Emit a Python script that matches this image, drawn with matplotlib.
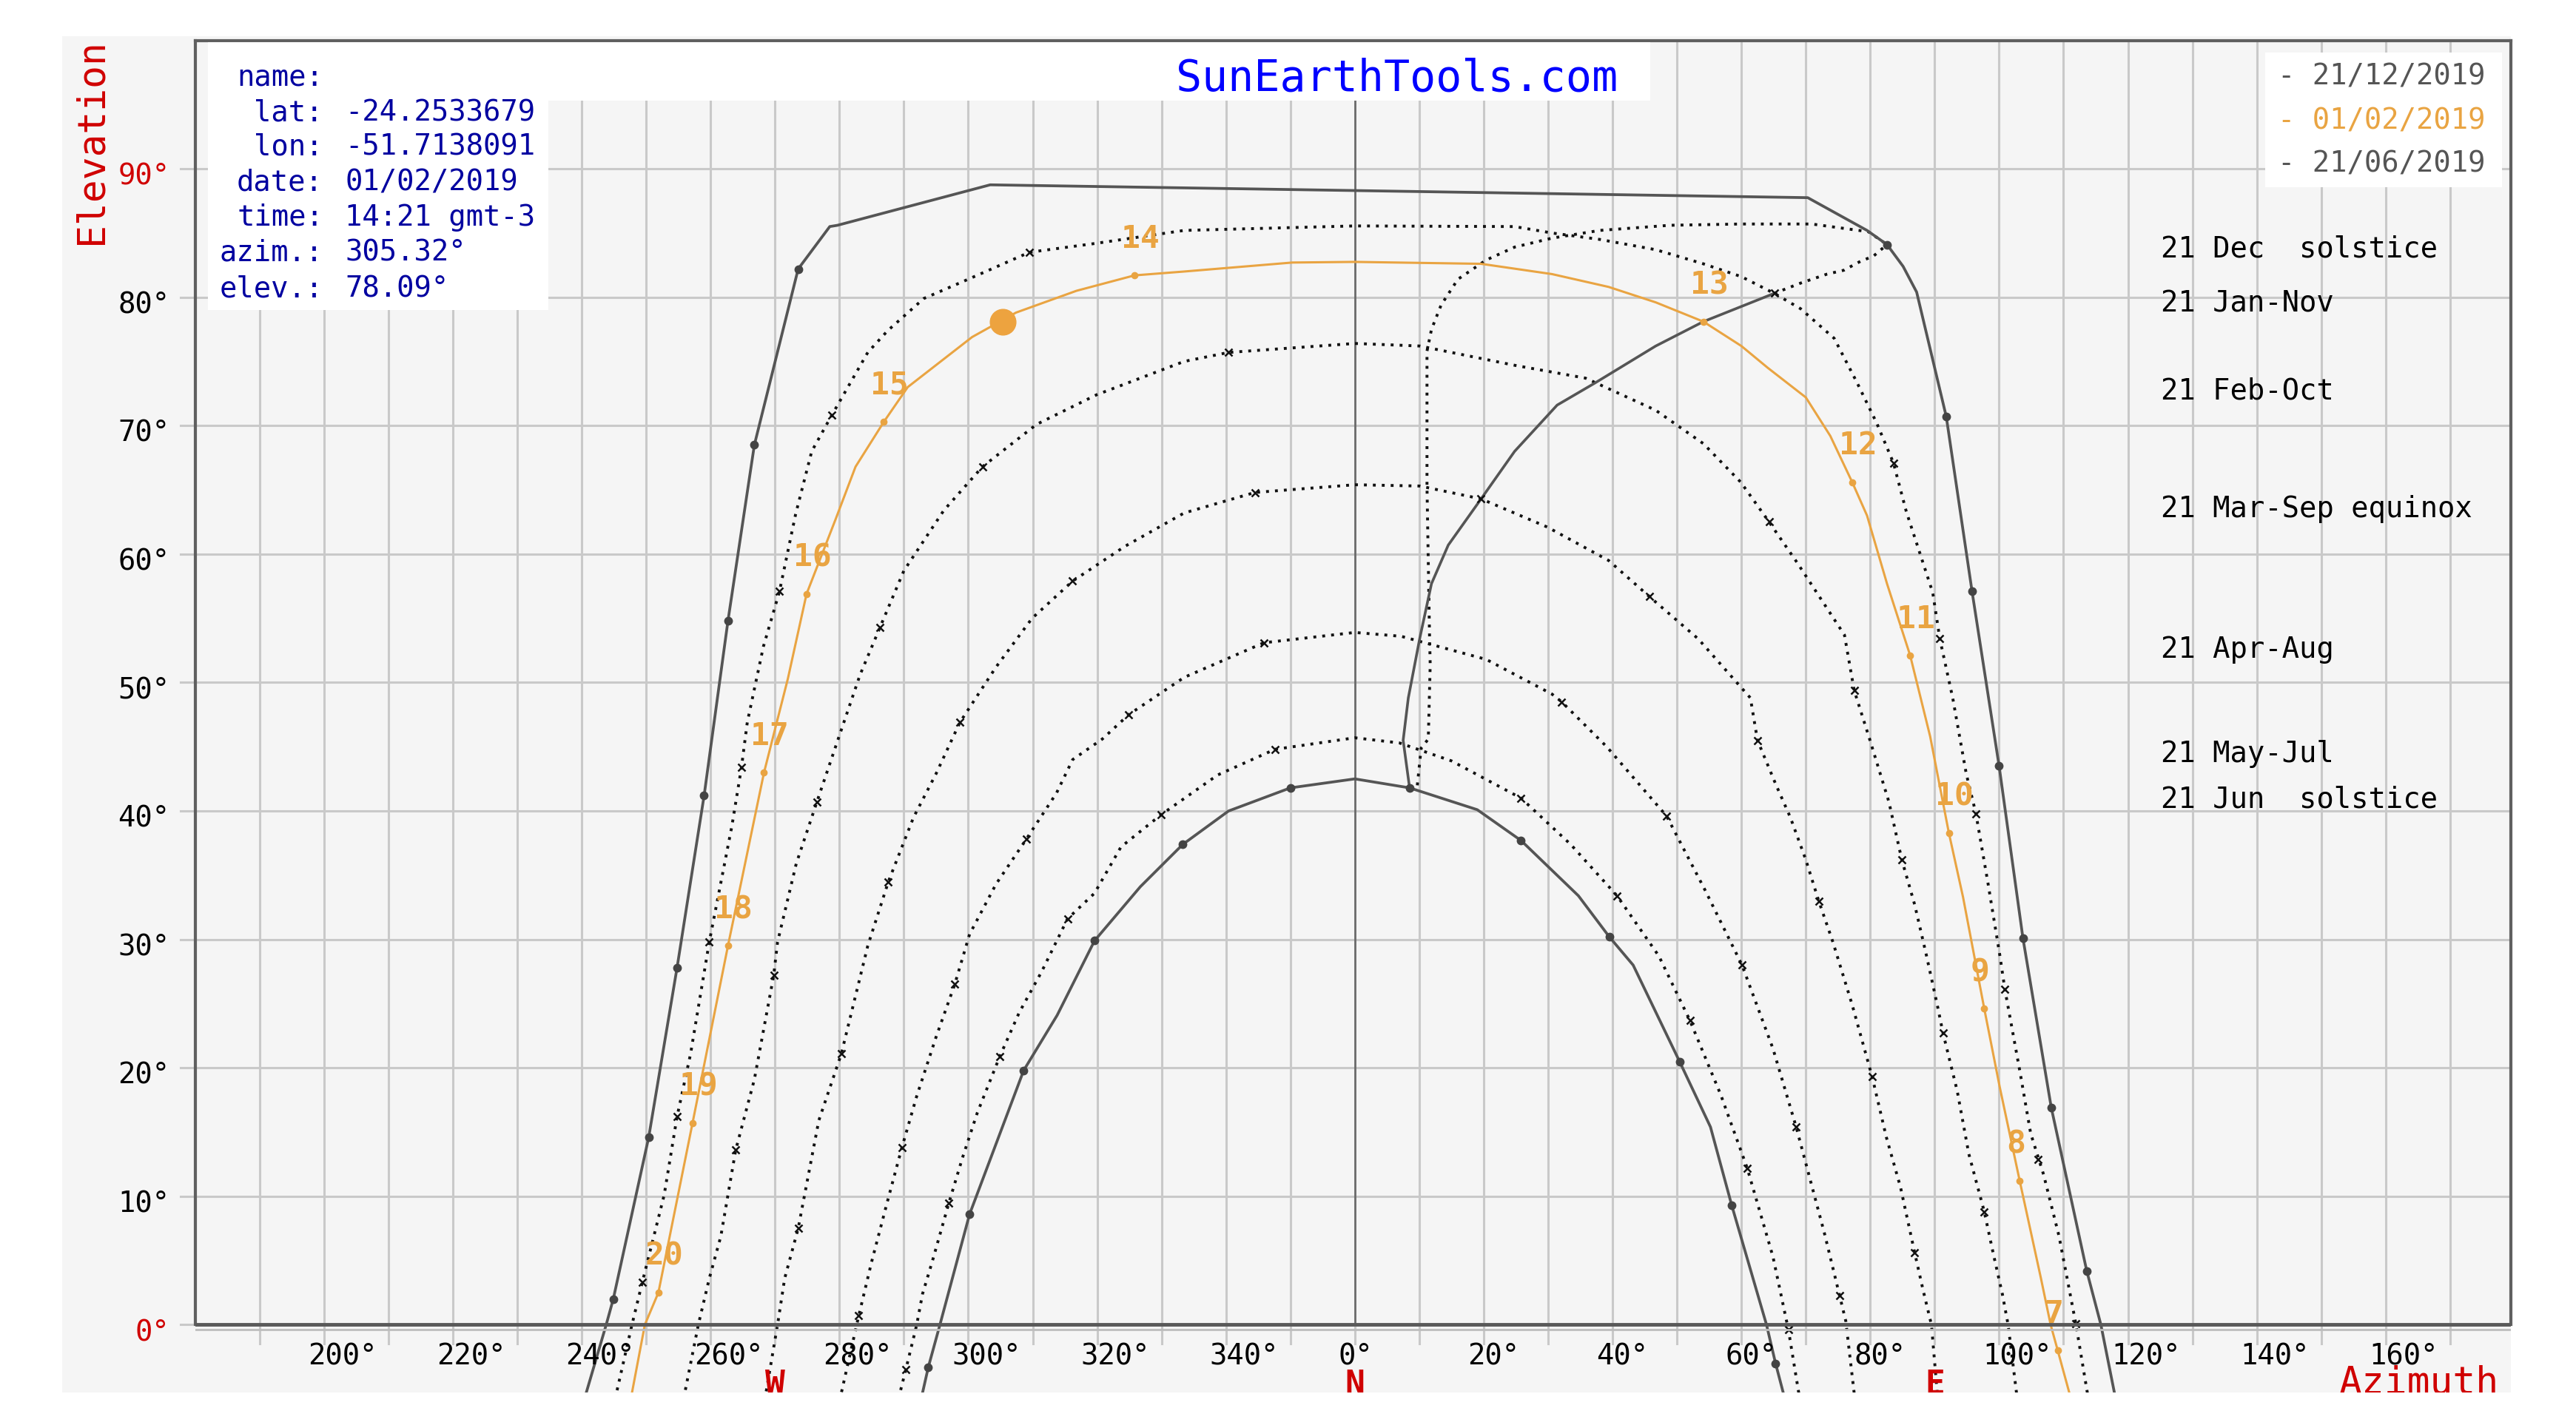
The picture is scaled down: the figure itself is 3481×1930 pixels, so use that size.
import matplotlib.pyplot as plt
from matplotlib.patches import Rectangle

W_PX, H_PX = 3481, 1931

# sun paths: azimuth in degrees (north = 0, west negative), elevation in degrees
dec_az = [117.9, 115.8, 113.6, 108.1, 103.7, 100.0, 95.8, 91.8, 87.2, 85.1, 82.6, 79.5, 70.3,
          -56.6, -80.3, -81.5, -86.4, -93.2, -97.3, -101.0, -105.2, -109.6, -115.1, -116.2, -119.3]
dec_el = [-5.3, 0.0, 4.2, 16.9, 30.1, 43.5, 57.1, 70.7, 80.4, 82.4, 84.1, 85.2, 87.75,
          88.75, 85.6, 85.5, 82.2, 68.5, 54.8, 41.2, 27.8, 14.6, 2.0, 0.0, -5.3]
dec_mk_az = [113.6, 108.1, 103.7, 100.0, 95.8, 91.8, 82.6, -86.4, -93.2, -97.3, -101.0, -105.2, -109.6, -115.1]
dec_mk_el = [4.2, 16.9, 30.1, 43.5, 57.1, 70.7, 84.1, 82.2, 68.5, 54.8, 41.2, 27.8, 14.6, 2.0]

jun_az = [66.5, 65.3, 63.9, 58.5, 55.2, 50.4, 43.2, 39.5, 34.7, 25.8, 19.0, 8.5, 0.0, -10.0,
          -19.6, -26.7, -33.3, -40.4, -46.2, -51.4, -59.8, -64.4, -66.2, -67.1]
jun_el = [-5.3, -3.0, 0.0, 9.3, 15.4, 20.5, 28.0, 30.2, 33.4, 37.7, 40.1, 41.8, 42.5, 41.8,
          40.0, 37.4, 34.1, 29.9, 24.1, 19.8, 8.6, 0.0, -3.3, -5.3]
jun_mk_az = [65.3, 58.5, 50.4, 39.5, 25.8, 8.5, -10.0, -26.7, -40.4, -51.4, -59.8, -66.2]
jun_mk_el = [-3.0, 9.3, 20.5, 30.2, 37.7, 41.8, 41.8, 37.4, 29.9, 19.8, 8.6, -3.3]

jan_az = [113.7, 111.9, 109.3, 106.9, 104.9, 103.2, 100.9, 100.1, 98.3, 96.4, 94.9, 92.8, 90.8,
          89.7, 85.6, 83.6, 81.0, 77.9, 74.4, 69.2, 65.1, 60.0, 54.1, 46.7, 38.0, 30.6, 24.8,
          0.0, -26.5, -40.1, -50.5, -60.0, -66.9, -72.5, -75.6, -81.2, -84.3, -86.8, -89.3,
          -91.8, -94.3, -95.2, -96.7, -100.2, -103.1, -105.2, -107.2, -110.6, -112.2, -114.6]
jan_el = [-5.3, 0.1, 6.9, 11.7, 14.9, 19.8, 26.1, 28.8, 34.3, 39.8, 42.9, 48.8, 53.4,
          57.0, 63.3, 67.1, 70.2, 73.4, 76.8, 79.1, 80.3, 81.6, 82.6, 83.7, 84.5, 85.0, 85.5,
          85.55, 85.2, 84.2, 83.5, 81.4, 79.9, 77.4, 75.7, 70.8, 68.0, 63.1, 57.1,
          52.8, 46.9, 43.4, 38.8, 29.8, 21.1, 16.2, 10.1, 3.3, 0.0, -5.3]
jan_mk_az = [111.9, 106.0, 100.9, 96.4, 90.8, 83.6, 65.1, -50.5, -81.2, -89.3, -95.2, -100.2, -105.2, -110.6]
jan_mk_el = [0.1, 12.9, 26.1, 39.8, 53.4, 67.1, 80.3, 83.5, 70.8, 57.1, 43.4, 29.8, 16.2, 3.3]

feb_az = [102.7, 101.4, 100.5, 99.2, 97.7, 95.3, 93.5, 91.3, 90.4, 88.7, 86.9, 84.9, 82.9, 79.9,
          77.5, 76.0, 68.7, 64.3, 59.9, 54.1, 46.7, 35.8, 24.8, 10.1, 0.0, -19.6, -26.5, -40.1,
          -49.4, -57.8, -63.8, -70.0, -73.7, -76.8, -80.6, -83.5, -86.7, -89.6, -90.2, -93.2,
          -96.1, -98.4, -100.2, -101.9, -104.0]
feb_el = [-5.3, 0.0, 2.4, 5.3, 8.8, 13.3, 18.2, 22.7, 24.9, 28.8, 32.7, 36.2, 40.7, 45.6,
          49.4, 53.7, 59.3, 62.5, 65.6, 68.6, 71.2, 73.7, 74.7, 76.2, 76.4, 75.7, 75.0, 72.4,
          70.1, 66.8, 63.4, 58.7, 54.3, 50.6, 45.0, 40.7, 35.9, 29.8, 27.2, 19.1,
          13.6, 6.9, 3.6, 0.0, -5.3]
feb_mk_az = [97.7, 91.3, 84.9, 77.5, 64.3, -19.6, -57.8, -73.7, -83.5, -90.2, -96.1]
feb_mk_el = [8.8, 22.7, 36.2, 49.4, 62.5, 75.7, 66.8, 54.3, 40.7, 27.2, 13.6]

mar_az = [90.4, 89.5, 88.2, 86.9, 84.7, 82.5, 80.3, 77.2, 74.2, 72.0, 70.0, 67.6, 65.4, 62.5,
          61.4, 53.3, 45.7, 39.4, 29.9, 19.6, 10.1, 0.0, -15.5, -26.5, -35.7, -43.8, -50.1,
          -55.7, -61.3, -65.0, -68.5, -72.4, -75.6, -79.7, -83.2, -86.4, -88.5, -89.6, -91.4]
mar_el = [-5.3, 0.0, 2.7, 5.6, 10.7, 14.6, 19.3, 24.9, 29.8, 33.0, 36.2, 39.5, 42.0, 45.5,
          48.8, 53.4, 56.7, 59.5, 62.1, 64.3, 65.3, 65.4, 64.8, 63.2, 60.6, 57.9, 55.0,
          51.2, 46.9, 42.9, 39.5, 34.5, 29.5, 21.1, 15.9, 7.5, 3.6, 0.0, -5.3]
mar_mk_az = [86.9, 80.3, 72.0, 62.5, 45.7, 19.6, -15.5, -43.8, -61.3, -72.4, -79.7, -86.4]
mar_mk_el = [5.6, 19.3, 33.0, 45.5, 56.7, 64.3, 64.8, 57.9, 46.9, 34.5, 21.1, 7.5]

apr_az = [77.5, 76.2, 72.9, 68.5, 64.9, 60.1, 54.4, 48.4, 39.1, 32.1, 30.6, 20.4, 12.3, 7.2,
          0.0, -14.1, -26.5, -35.1, -39.2, -43.8, -46.3, -51.0, -55.7, -59.8, -62.1, -65.0,
          -68.0, -70.3, -72.6, -75.0, -77.0, -79.7]
apr_el = [-5.3, 0.3, 7.1, 15.4, 21.5, 28.0, 33.8, 39.6, 45.0, 48.5, 49.1, 51.8, 52.9, 53.6,
          53.9, 53.1, 50.4, 47.5, 45.6, 44.0, 41.4, 37.8, 34.3, 30.4, 26.5, 22.4,
          17.8, 13.8, 9.5, 4.9, 0.7, -5.3]
apr_mk_az = [75.2, 68.5, 60.1, 48.4, 32.1, -14.1, -35.1, -51.0, -62.1, -70.3, -77.0]
apr_mk_el = [2.3, 15.4, 28.0, 39.6, 48.5, 53.1, 47.5, 37.8, 26.5, 13.8, 0.7]

may_az = [68.9, 67.3, 64.9, 60.9, 56.8, 52.0, 47.2, 40.7, 33.5, 25.8, 15.0, 6.9, 0.0, -12.4,
          -21.3, -30.1, -36.3, -40.4, -44.6, -48.6, -52.1, -55.1, -58.6, -60.9, -63.0, -65.6,
          -67.1, -68.0, -69.7, -70.6]
may_el = [-5.3, -0.4, 5.3, 12.2, 17.9, 23.7, 28.7, 33.4, 37.4, 41.0, 43.9, 45.3, 45.7, 44.8,
          42.8, 39.7, 37.2, 33.6, 31.6, 27.5, 24.3, 20.9, 16.5, 13.0, 9.5, 4.9,
          2.4, 0.0, -3.5, -5.3]
may_mk_az = [67.3, 60.9, 52.0, 40.7, 25.8, -12.4, -30.1, -44.6, -55.1, -63.0, -69.7]
may_mk_el = [-0.4, 12.2, 23.7, 33.4, 41.0, 44.8, 39.7, 31.6, 20.9, 9.5, -3.5]

# selected day 01/02/2019
day_az = [110.9, 109.1, 108.0, 106.5, 103.2, 100.1, 97.7, 94.4, 92.2, 89.3, 86.2, 82.6, 79.5,
          77.2, 73.8, 70.0, 64.1, 60.0, 54.1, 46.7, 39.4, 30.6, 19.6, 0.0, -9.7, -26.5, -34.2,
          -43.2, -52.6, -59.4, -69.4, -73.1, -77.5, -80.6, -85.1, -88.0, -91.7, -97.3, -102.8,
          -108.1, -110.2, -112.2]
day_el = [-5.3, -2.0, 0.0, 3.6, 11.2, 18.5, 24.6, 33.3, 38.3, 45.8, 52.1, 57.7, 63.0,
          65.6, 69.2, 72.2, 74.5, 76.2, 78.1, 79.6, 80.8, 81.8, 82.6, 82.75, 82.7, 82.0, 81.7,
          80.5, 78.8, 76.9, 73.0, 70.3, 66.8, 62.7, 56.9, 50.3, 43.0, 29.5, 15.7,
          2.5, 0.0, -5.3]
hours = [7, 8, 9, 10, 11, 12, 13, 14, 15, 16, 17, 18, 19, 20]
hour_az = [109.1, 103.2, 97.7, 92.2, 86.2, 77.2, 54.1, -34.2, -73.1, -85.1, -91.7, -97.3, -102.8, -108.1]
hour_el = [-2.0, 11.2, 24.6, 38.3, 52.1, 65.6, 78.1, 81.7, 70.3, 56.9, 43.0, 29.5, 15.7, 2.5]
sun_azim, sun_elev = 305.32, 78.09

# analemma of the 13:00 position
ana_az = [8.5, 7.5, 8.3, 10.1, 11.9, 14.5, 19.6, 24.8, 31.4, 37.2, 46.7, 54.1, 65.1]
ana_el = [41.8, 45.5, 48.8, 53.5, 57.7, 60.7, 64.3, 68.0, 71.6, 73.3, 76.2, 78.1, 80.3]
ana_tail_az = [65.1, 69.2, 73.3, 75.9, 78.5, 80.5, 82.6]
ana_tail_el = [80.3, 81.1, 81.8, 82.1, 82.8, 83.2, 84.1]
ana_dot_az = [9.7, 10.3, 11.4, 11.7, 11.6, 11.2, 11.2, 11.9, 13.4, 16.0, 20.4, 24.8, 30.6,
              38.0, 48.9, 59.9, 70.9, 79.7, 82.6]
ana_dot_el = [42.0, 44.9, 45.6, 51.4, 53.5, 65.3, 75.8, 77.5, 79.4, 81.4, 82.9, 83.9, 84.6,
              85.2, 85.6, 85.7, 85.7, 85.1, 84.1]

x_ticks = list(range(-160, 161, 20))
y_ticks = list(range(0, 91, 10))
date_labels = ["21 Dec  solstice", "21 Jan-Nov", "21 Feb-Oct", "21 Mar-Sep equinox",
               "21 Apr-Aug", "21 May-Jul", "21 Jun  solstice"]
legend_labels = ["- 21/12/2019", "- 01/02/2019", "- 21/06/2019"]
info_keys = ["name:", "lat:", "lon:", "date:", "time:", "azim.:", "elev.:"]
info_vals = ["", "-24.2533679", "-51.7138091", "01/02/2019", "14:21 gmt-3", "305.32°", "78.09°"]

GRAY = "#555555"
ORANGE = "#e9a442"
GRID = "#c9c9c9"
RED = "#d00000"
NAVY = "#0000a0"

plt.rcParams["font.family"] = "DejaVu Sans Mono"


def fxy(x, y):
    return x / W_PX, 1 - y / H_PX


fig = plt.figure(figsize=(W_PX / 100, H_PX / 100), dpi=100)
fig.patch.set_facecolor("white")


def fig_box(x0, y0, x1, y1, color, z):
    a, b = fxy(x0, y1)
    c, d = fxy(x1, y0)
    fig.patches.append(Rectangle((a, b), c - a, d - b, transform=fig.transFigure,
                                 facecolor=color, edgecolor="none", zorder=z))


fig_box(84, 50, 3392.7, 1882.6, "#f5f5f5", -10)

l, b = fxy(263.7, 1882.6)
r, t = fxy(3392.7, 55.5)
ax = fig.add_axes([l, b, r - l, t - b])
ax.set_xlim(-180, 179.4)
ax.set_ylim(-5.25, 100)
ax.set_facecolor("#f5f5f5")
ax.set_xticks([])
ax.set_yticks([])
for s in ["top", "left", "right"]:
    ax.spines[s].set_color("#606060")
    ax.spines[s].set_linewidth(3)
ax.spines["bottom"].set_visible(False)
ax.spines["left"].set_bounds(0, 100)
ax.spines["right"].set_bounds(0, 100)

# grid with ticks reaching outside the frame
for a in range(-170, 180, 10):
    ax.plot([a, a], [-1.45, 0 if a == 0 else 100], color=GRID, lw=2.2, zorder=1, clip_on=False)
ax.plot([0, 0], [0, 100], color="#6a6a6a", lw=2, zorder=1.2)
for e in range(0, 100, 10):
    ax.plot([-182.3, 179.4], [e, e], color=GRID, lw=2.2, zorder=1, clip_on=False)
ax.plot([-180, 179.4], [-0.35, -0.35], color="#bdbdbd", lw=2, zorder=2.8)
ax.plot([-180, 179.4], [0, 0], color="#5a5a5a", lw=3.5, zorder=2.9)

dot = dict(color="#111111", lw=2.8, ls=(0, (1, 2.1)), dash_capstyle="butt", zorder=2)
xmk = dict(ls="none", marker="x", ms=7, mew=1.8, color="#111111", zorder=2.2)
for az, el, maz, mel in [(jan_az, jan_el, jan_mk_az, jan_mk_el),
                         (feb_az, feb_el, feb_mk_az, feb_mk_el),
                         (mar_az, mar_el, mar_mk_az, mar_mk_el),
                         (apr_az, apr_el, apr_mk_az, apr_mk_el),
                         (may_az, may_el, may_mk_az, may_mk_el)]:
    ax.plot(az, el, **dot)
    ax.plot(maz, mel, **xmk)

ax.plot(ana_dot_az, ana_dot_el, **dot)
ax.plot(ana_tail_az, ana_tail_el, **dot)
ax.plot(ana_az, ana_el, color=GRAY, lw=2.6, zorder=2.1)

for az, el, maz, mel in [(dec_az, dec_el, dec_mk_az, dec_mk_el),
                         (jun_az, jun_el, jun_mk_az, jun_mk_el)]:
    ax.plot(az, el, color=GRAY, lw=2.7, zorder=2.3)
    ax.plot(maz, mel, ls="none", marker="o", ms=7.5, color="#444444", zorder=2.4)

ax.plot(day_az, day_el, color=ORANGE, lw=2.2, zorder=2.5)
ax.plot(hour_az, hour_el, ls="none", marker="o", ms=6, color=ORANGE, zorder=2.6)
for h, az, el in zip(hours, hour_az, hour_el):
    ax.text(az - 2.1, el + 2.2, str(h), color=ORANGE, fontsize=31, fontweight="bold",
            ha="left", va="baseline", zorder=4)
ax.plot([sun_azim - 360], [sun_elev], ls="none", marker="o", ms=25, color="#eda33f", zorder=2.7)

# axis labels
for a in x_ticks:
    ax.text(a - 2.53, -3.08, f"{a % 360}°", fontsize=28, ha="left", va="baseline",
            color="black", clip_on=False)
for e in y_ticks:
    ax.text(-183.9, e - 1.19, f"{e}°", fontsize=28, ha="right", va="baseline",
            color=RED if e in (0, 90) else "black", clip_on=False)
for a, s in [(-90, "W"), (0, "N"), (90, "E")]:
    ax.text(a, -5.33, s, fontsize=32, fontweight="bold", color=RED, ha="center",
            va="baseline", clip_on=True)
ax.text(152.7, -5.3, "Azimuth", fontsize=37, color=RED, ha="left", va="baseline", clip_on=True)
fig.text(*fxy(123.5, 191), "Elevation", fontsize=37, color=RED, rotation=90,
         ha="center", va="center")

# info box and title strip
fig_box(281, 58, 741, 420, "white", 1)
fig_box(741, 58, 2230, 137, "white", 1)
for k, v, y in zip(info_keys, info_vals, [115, 163, 210, 258, 305, 353, 401]):
    fig.text(*fxy(437, y), k, fontsize=28, color=NAVY, ha="right", va="baseline")
    fig.text(*fxy(466, y), v, fontsize=28, color=NAVY, ha="left", va="baseline")
fig.text(*fxy(1589, 123), "SunEarthTools.com", fontsize=42, color="#0000ff",
         ha="left", va="baseline")

# legend
fig_box(3061, 72, 3381, 254, "white", 1)
for s, c, y in zip(legend_labels, [GRAY, ORANGE, GRAY], [115, 174, 233]):
    fig.text(*fxy(3078, y), s, fontsize=28, color=c, ha="left", va="baseline")

for s, y in zip(date_labels, [348, 421, 539, 699, 889, 1030, 1092]):
    fig.text(*fxy(2920, y), s, fontsize=28, color="black", ha="left", va="baseline")

fig.savefig("out.png", dpi=100)
